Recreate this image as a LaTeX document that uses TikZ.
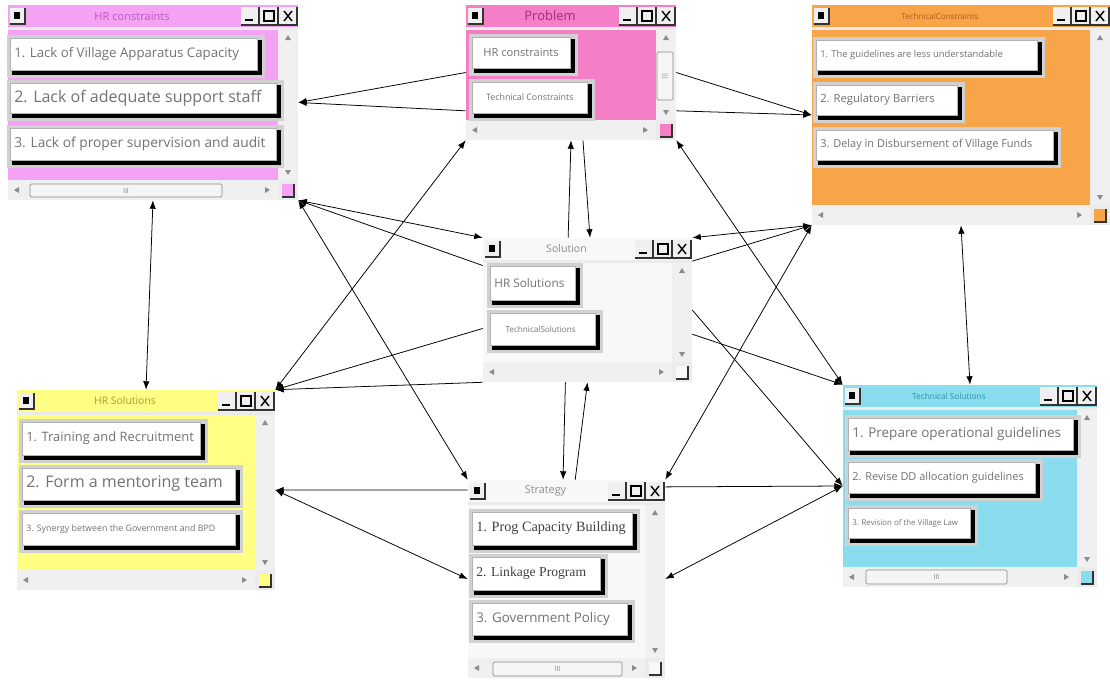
\documentclass[tikz,border=0pt]{standalone}
\usepackage{fontspec}
\setmainfont{Open Sans}
\newfontfamily\timesface{Liberation Serif}
\usetikzlibrary{arrows.meta, fit}

\definecolor{hrcpink}{HTML}{F4A2F4}
\definecolor{probpink}{HTML}{F47FC6}
\definecolor{tconorange}{HTML}{F8A448}
\definecolor{hrsyellow}{HTML}{FFFF84}
\definecolor{tsolcyan}{HTML}{8ADDEE}
\definecolor{plainbg}{HTML}{F8F8F8}
\definecolor{hrctitle}{HTML}{C055C0}
\definecolor{probtitle}{HTML}{A02C78}
\definecolor{tcontitle}{HTML}{B05A1A}
\definecolor{hrstitle}{HTML}{A0A030}
\definecolor{tsoltitle}{HTML}{2A90A8}
\definecolor{plaintitle}{HTML}{8C8C8C}
\definecolor{itemgray}{HTML}{727272}

\newcommand{\fsz}[1]{\fontsize{#1}{#1}\selectfont}

% window chrome: name, x1, y1, x2, y2, fill, title colour, title
\newcommand{\appwindow}[8]{%
  \fill[winframe] (#2,#3) rectangle (#4,#5);
  \fill[#6] (#2,#3) rectangle (#4,#3+22);
  \node[wintitle, text=#7] (#1-title) at ({(#2+#4)/2-21},#3+11) {#8};
  \fill[btnface] (#2+2,#3+3) rectangle (#2+17,#3+19);
  \draw[btnedge] (#2+2,#3+19) -- (#2+17,#3+19) -- (#2+17,#3+3);
  \fill[black] (#2+6,#3+7) rectangle (#2+12,#3+14);
  \foreach \bx in {19,38,57} {
    \fill[btnface] (#4-\bx,#3+2) rectangle (#4-\bx+18,#3+20);
    \draw[btnedge] (#4-\bx,#3+20) -- (#4-\bx+18,#3+20) -- (#4-\bx+18,#3+2);
  }
  \draw[line width=2pt] (#4-53,#3+15) -- (#4-45,#3+15);
  \draw[line width=0.9pt] (#4-34,#3+6) rectangle (#4-24,#3+16);
  \draw[line width=1pt] (#4-14,#3+6) -- (#4-6,#3+16) (#4-14,#3+16) -- (#4-6,#3+6);
  \fill[#6] (#2,#3+25) rectangle (#4-20,#5-20);
  \fill[scrollbg] (#4-20,#3+25) rectangle (#4,#5-20);
  \fill[scrollbg] (#2,#5-20) rectangle (#4-20,#5);
  \fill[scrollarrow] (#4-10,#3+30) -- ++(-3,5) -- ++(6,0) -- cycle;
  \fill[scrollarrow] (#4-10,#5-25) -- ++(-3,-5) -- ++(6,0) -- cycle;
  \fill[scrollarrow] (#2+6,#5-10) -- ++(5,-3) -- ++(0,6) -- cycle;
  \fill[scrollarrow] (#4-28,#5-10) -- ++(-5,-3) -- ++(0,6) -- cycle;
  \fill[#6] (#4-16,#5-16) rectangle (#4-4,#5-3);
  \draw[btnedge] (#4-16,#5-3) -- (#4-4,#5-3) -- (#4-4,#5-16);
  \node[inner sep=0pt, fit={(#2,#3) (#4,#5)}] (#1) {};
}

% list button: name, x1, y1, x2, y2, text options, text
\newcommand{\winitem}[7]{%
  \fill[itemstrip] (#2-3,#3-3) rectangle (#4+3,#5+3);
  \fill[black] (#2+2,#3+2) rectangle (#4,#5);
  \filldraw[itemface] (#2,#3) rectangle (#4-5,#5-5);
  \node[itemtext, #6] (#1) at (#2+4,{(#3+#5-5)/2}) {#7};
}

\begin{document}
\begin{tikzpicture}[
    x=0.025cm, y=-0.025cm,
    winframe/.style={fill=black!8},
    wintitle/.style={inner sep=0pt},
    btnface/.style={fill=black!6},
    btnedge/.style={draw=black!80, line width=1pt},
    scrollbg/.style={fill=black!6},
    scrollarrow/.style={fill=black!45},
    itemstrip/.style={fill=black!18},
    itemface/.style={fill=white, draw=black!30, line width=0.5pt},
    itemtext/.style={anchor=west, inner sep=0pt, text=itemgray},
    thumb/.style={fill=black!4, draw=black!45, line width=0.5pt, rounded corners=1pt},
    arr/.style={-{Latex[length=6pt,width=4.5pt]}, line width=0.55pt},
    biarr/.style={{Latex[length=6pt,width=4.5pt]}-{Latex[length=6pt,width=4.5pt]}, line width=0.55pt}
  ]
    \useasboundingbox[fill=white] (0,0) rectangle (1110,679);

    % windows
    \appwindow{hrc}{8}{5}{298}{200}{hrcpink}{hrctitle}{\fsz{7.9}HR constraints}
    \appwindow{prob}{466}{5}{676}{140}{probpink}{probtitle}{\fsz{9.2}Problem}
    \appwindow{tcon}{812}{5}{1110}{225}{tconorange}{tcontitle}{\fsz{5.7}TechnicalConstraints}
    \appwindow{sol}{483}{238}{692}{382}{plainbg}{plaintitle}{\fsz{7.5}Solution}
    \appwindow{hrs}{17}{390}{275}{590}{hrsyellow}{hrstitle}{\fsz{7.4}HR Solutions}
    \appwindow{strat}{468}{480}{665}{678}{plainbg}{plaintitle}{\fsz{7.7}Strategy}
    \appwindow{tsol}{843}{385}{1097}{587}{tsolcyan}{tsoltitle}{\fsz{5.9}Technical Solutions}

    % scroll thumbs
    \draw[thumb] (30,184) rectangle (222,197) node[midway, font=\fsz{5}, text=black!50] (hrc-thumb) {III};
    \draw[thumb] (657,52) rectangle (673,100) node[midway, font=\fsz{6}, text=black!50] (prob-thumb) {$\equiv$};
    \draw[thumb] (493,662) rectangle (622,676) node[midway, font=\fsz{5}, text=black!50] (strat-thumb) {III};
    \draw[thumb] (866,570) rectangle (1007,584) node[midway, font=\fsz{5}, text=black!50] (tsol-thumb) {III};

    % list entries
    \winitem{hrc-1}{10}{38}{262}{75}{font=\fsz{9.4}}{1. Lack of Village Apparatus Capacity}
    \winitem{hrc-2}{10}{83}{281}{118}{font=\fsz{11.4}}{2. Lack of adequate support staff}
    \winitem{hrc-3}{10}{128}{281}{165}{font=\fsz{9.8}}{3. Lack of proper supervision and audit}

    \winitem{prob-1}{472}{37}{575}{73}{font=\fsz{7.9}, xshift=5}{HR constraints}
    \winitem{prob-2}{472}{82}{592}{118}{font=\fsz{6.3}, xshift=7}{Technical Constraints}

    \winitem{tcon-1}{816}{40}{1042}{75}{font=\fsz{6.7}}{1. The guidelines are less understandable}
    \winitem{tcon-2}{816}{85}{962}{120}{font=\fsz{8}}{2. Regulatory Barriers}
    \winitem{tcon-3}{816}{130}{1058}{165}{font=\fsz{7.8}}{3. Delay in Disbursement of Village Funds}

    \winitem{sol-1}{490}{266}{580}{305}{font=\fsz{8.4}}{HR Solutions}
    \winitem{sol-2}{490}{313}{600}{350}{font=\fsz{5.8}, xshift=8}{TechnicalSolutions}

    \winitem{hrs-1}{22}{422}{205}{460}{font=\fsz{9.2}}{1. Training and Recruitment}
    \winitem{hrs-2}{22}{468}{240}{505}{font=\fsz{11.4}}{2. Form a mentoring team}
    \winitem{hrs-3}{22}{513}{240}{550}{font=\fsz{6.3}}{3. Synergy between the Government and BPD}

    \winitem{strat-1}{472}{512}{637}{550}{font=\timesface\fsz{10.1}, text=black!75}{1. Prog Capacity Building}
    \winitem{strat-2}{472}{557}{605}{595}{font=\timesface\fsz{9.7}, text=black!75}{2. Linkage Program}
    \winitem{strat-3}{472}{603}{632}{640}{font=\fsz{9.5}}{3. Government Policy}

    \winitem{tsol-1}{848}{418}{1078}{455}{font=\fsz{9.6}}{1. Prepare operational guidelines}
    \winitem{tsol-2}{848}{462}{1040}{498}{font=\fsz{7.8}}{2. Revise DD allocation guidelines}
    \winitem{tsol-3}{848}{508}{975}{543}{font=\fsz{5.6}}{3. Revision of the Village Law}

    % connectors
    \draw[arr] (prob.west) -- (hrc.east);
    \draw[arr] (prob.200) -- (hrc.east);
    \draw[arr] (prob.east) -- (tcon.west);
    \draw[arr] (prob.340) -- (tcon.west);
    \draw[biarr] (hrc.south) -- (hrs.north);
    \draw[biarr] (tcon.south) -- (tsol.north);
    \draw[biarr] (hrc.south east) -- (sol.north west);
    \draw[arr] (sol.157) -- (hrc.south east);
    \draw[biarr] (hrc.south east) -- (strat.north west);
    \draw[biarr] (hrs.north east) -- (prob.south west);
    \draw[arr] (sol.190) -- (hrs.north east);
    \draw[arr] (sol.south west) -- (hrs.north east);
    \draw[arr] (strat.138) -- (hrs.east);
    \draw[biarr] (hrs.east) -- (strat.west);
    \draw[arr] (sol.105) -- (prob.south);
    \draw[arr] (prob.-80) -- (sol.88);
    \draw[arr] (strat.85) -- (sol.south);
    \draw[arr] (sol.-107) -- (strat.92);
    \draw[biarr] (tcon.south west) -- (sol.north east);
    \draw[arr] (sol.25) -- (tcon.south west);
    \draw[biarr] (prob.south east) -- (tsol.north west);
    \draw[arr] (sol.-13) -- (tsol.north west);
    \draw[biarr] (tcon.south west) -- (strat.north east);
    \draw[arr] (sol.east) -- (tsol.west);
    \draw[arr] (strat.43) -- (tsol.west);
    \draw[biarr] (strat.east) -- (tsol.west);
\end{tikzpicture}
\end{document}
